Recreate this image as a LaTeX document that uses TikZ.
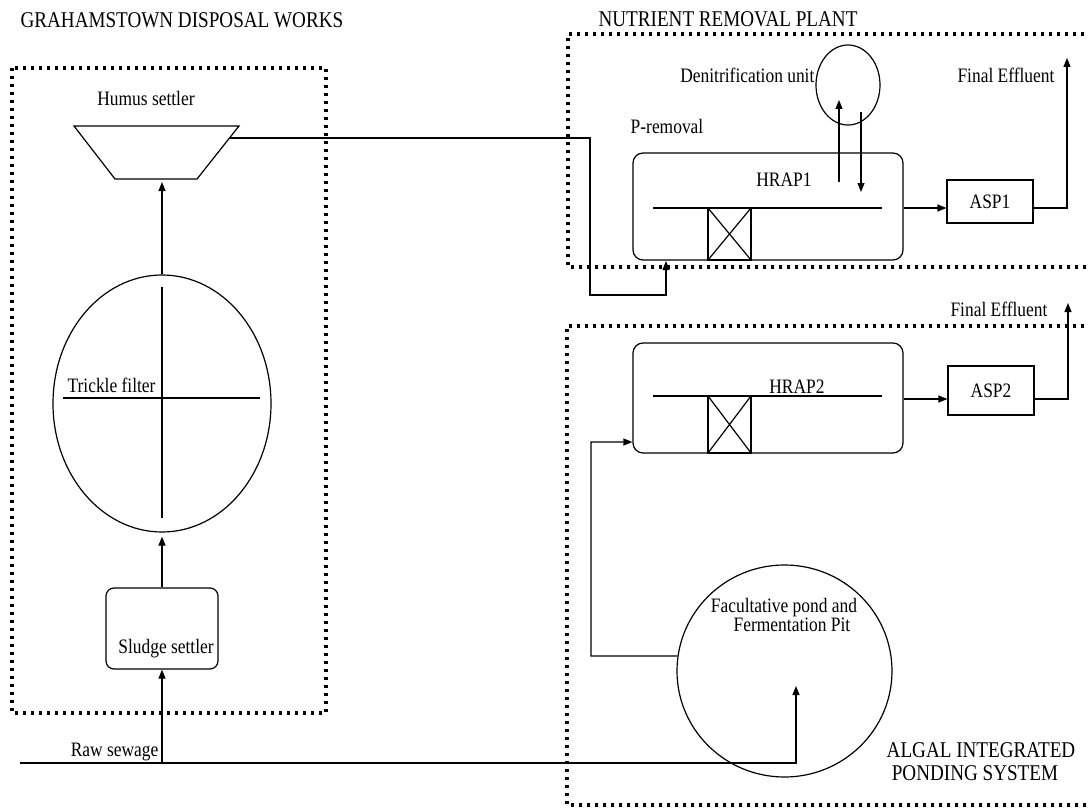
\documentclass[tikz,border=0pt]{standalone}
\usepackage{fontspec}
\setmainfont{Liberation Serif}[FakeStretch=0.85]
\usetikzlibrary{arrows.meta,shapes.geometric}
\begin{document}
\begin{tikzpicture}[x=1pt,y=-1pt,
  line width=1.2pt,
  arr/.style={-{Triangle[length=9pt,width=7pt]}},
  dotbox/.style={line width=3.2pt,dash pattern=on 3pt off 5pt,line cap=butt},
  lbl/.style={font=\fontsize{20.5}{19}\selectfont, inner sep=0pt},
  ttl/.style={font=\fontsize{22.5}{23}\selectfont, inner sep=0pt},
  unit/.style={draw, inner sep=0pt, line width=1.2pt},
]
\clip (0,0) rectangle (1088,808);
\fill[white] (0,0) rectangle (1088,808);

% dotted system boundaries
\draw[dotbox] (12,68) rectangle (326,713);
\draw[dotbox] (1100,34) -- (568,34) -- (568,267) -- (1100,267);
\draw[dotbox] (1100,326) -- (567,326) -- (567,805) -- (1100,805);

% titles
\node[ttl, anchor=base west] (tg) at (20,28) {GRAHAMSTOWN DISPOSAL WORKS};
\node[ttl, anchor=base west] (tn) at (598,27) {NUTRIENT REMOVAL PLANT};
\node[ttl, anchor=base] (ta1) at (981,757) {ALGAL INTEGRATED};
\node[ttl, anchor=base] (ta2) at (975,780) {PONDING SYSTEM};

% humus settler
\draw (74,126) -- (239,126) -- (197,179) -- (115,179) -- cycle;
\coordinate (humB) at (162,179);
\coordinate (humR) at (230,138);
\node[lbl, anchor=base] (humL) at (146,106) {Humus settler};

% trickle filter
\node[unit, ellipse, minimum width=218, minimum height=257] (trickle) at (162,403.5) {};
\draw (162,287) -- (162,518);
\draw (63,398) -- (260,398);
\node[lbl, anchor=base west] (trL) at (67,392) {Trickle filter};

% sludge settler
\node[unit, rounded corners=8pt, minimum width=112, minimum height=81] (sludge) at (162,628.5) {};
\node[lbl, anchor=base] (slL) at (166,653) {Sludge settler};

% raw sewage
\node[lbl, anchor=base east] (rawL) at (159,756) {Raw sewage};
\coordinate (rawS) at (20,763);
\coordinate (rawJ) at (162,763);
\coordinate (facIn) at (796,686);
\draw[arr] (rawS) -- (rawJ) -| (facIn);
\draw[arr] (rawJ) -- (sludge.south);
\draw[arr, shorten >=4pt] (sludge.north) -- (trickle.south);
\draw[arr, shorten >=3pt] (trickle.north) -- (humB);

% HRAP1
\node[unit, rounded corners=10pt, minimum width=270, minimum height=107] (hrap1) at (768,206.5) {};
\draw (653,208) -- (882,208);
\draw (708,208) rectangle (751,260);
\draw (708,208) -- (751,260);
\draw (708,260) -- (751,208);
\node[lbl, anchor=base] (h1L) at (784,186) {HRAP1};
\node[lbl, anchor=base] (prL) at (667,133) {P-removal};

% humus -> HRAP1
\coordinate (hj) at (590,295);
\coordinate (h1in) at (666,261);
\draw[arr] (humR) -| (hj) -| (h1in);

% denitrification
\node[unit, ellipse, minimum width=64, minimum height=80] (denit) at (848,85) {};
\node[lbl, anchor=base east] (dnL) at (815,83) {Denitrification unit};
\coordinate (u1) at (839,182);
\coordinate (u2) at (839,100);
\draw[arr] (u1) -- (u2);
\coordinate (dd1) at (861,112);
\coordinate (dd2) at (861,192);
\draw[arr] (dd1) -- (dd2);

% ASP1
\node[unit, lbl, minimum width=86, minimum height=43] (asp1) at (990,201.5) {ASP1};
\coordinate (y1) at (0,208);
\draw[arr] (hrap1.east |- y1) -- (asp1.west |- y1);
\coordinate (fe1) at (1067,58);
\draw[arr] (asp1.east |- y1) -| (fe1);
\node[lbl, anchor=base] (fe1L) at (1006,83) {Final Effluent};

% HRAP2
\node[unit, rounded corners=10pt, minimum width=270, minimum height=110] (hrap2) at (768,398) {};
\draw (653,396) -- (882,396);
\draw (708,396) rectangle (751,453);
\draw (708,396) -- (751,453);
\draw (708,453) -- (751,396);
\node[lbl, anchor=base] (h2L) at (797,393) {HRAP2};

% ASP2
\node[unit, lbl, minimum width=86, minimum height=49] (asp2) at (991,390.5) {ASP2};
\coordinate (y2) at (0,399);
\draw[arr] (hrap2.east |- y2) -- (asp2.west |- y2);
\coordinate (fe2) at (1068,303);
\draw[arr] (asp2.east |- y2) -| (fe2);
\node[lbl, anchor=base] (fe2L) at (999,316) {Final Effluent};

% facultative pond
\node[unit, ellipse, minimum width=215, minimum height=212] (fac) at (784.5,671) {};
\node[lbl, anchor=base] (fcL1) at (784,612) {Facultative pond and};
\node[lbl, anchor=base] (fcL2) at (792,631) {Fermentation Pit};
\coordinate (fj) at (591,656);
\coordinate (fj2) at (591,442);
\draw[arr] (fac.172) -- (fj) -- (fj2) -- (hrap2.west |- fj2);
\end{tikzpicture}
\end{document}
